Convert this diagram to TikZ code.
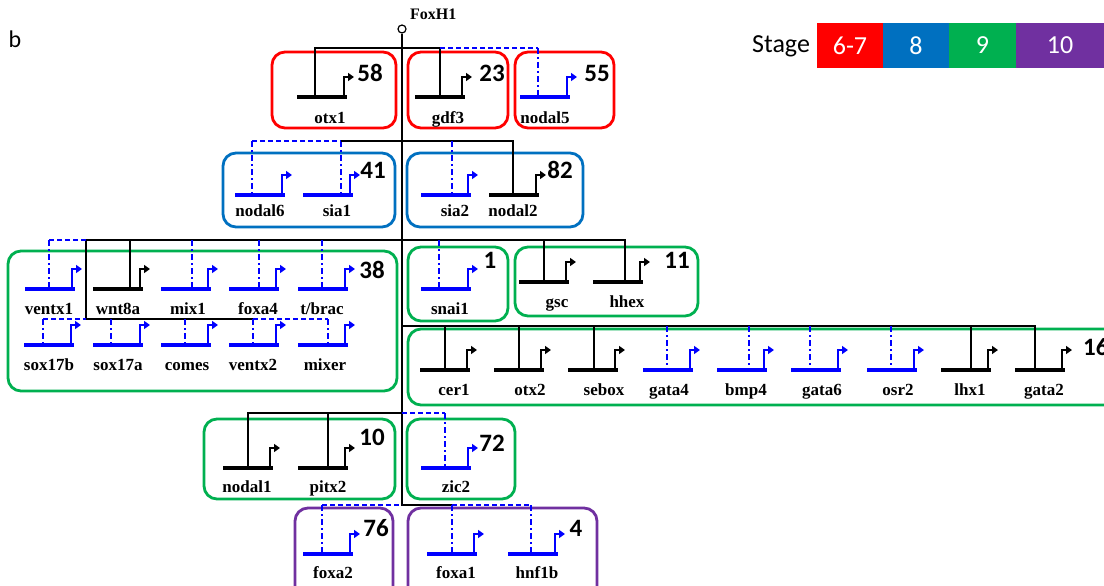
\documentclass[tikz,border=0pt]{standalone}
\usepackage{fontspec}
\setmainfont{Liberation Serif}
\newfontfamily\calib{Carlito}
\usetikzlibrary{arrows.meta}
\definecolor{stRed}{HTML}{FF0000}
\definecolor{stBlue}{HTML}{0070C0}
\definecolor{stGreen}{HTML}{00B050}
\definecolor{stPurple}{HTML}{7030A0}
\definecolor{geneBlue}{HTML}{0000FF}

% gene symbol: #1 id, #2 left end, #3 baseline, #4 x of the regulatory input,
% #5 colour, #6 label, #7 label position (base)
\newcommand\genesym[7]{%
  \draw[genebase,#5] (#2,#3) -- ++(50,0);
  \draw[promoter,#5] (#2+47,#3) -- ++(0,-20) -- ++(10,0);
  \coordinate (#1) at (#4,#3);
  \node[genelabel] (#1-lbl) at (#7) {#6};
}

\begin{document}
\begin{tikzpicture}[x=1pt,y=-1pt,
  tree/.style={line width=1.7pt, black},
  regdash/.style={line width=1.8pt, geneBlue, dash pattern=on 6pt off 3pt on 2pt off 3pt},
  hdash/.style={line width=1.8pt, geneBlue, dash pattern=on 5pt off 3pt},
  genebase/.style={line width=3.8pt},
  promoter/.style={line width=2.8pt, -{Triangle[length=6pt,width=8pt]}},
  genelabel/.style={font=\fontsize{17}{17}\selectfont\bfseries, anchor=base, inner sep=0pt},
  count/.style={font=\calib\bfseries\fontsize{25}{25}\selectfont, inner sep=0pt},
  grp/.style={line width=2.8pt, rounded corners=13pt},
  legbox/.style={minimum height=45pt, inner sep=0pt, text=white,
    font=\calib\fontsize{26}{26}\selectfont},
]
\useasboundingbox (0,0) rectangle (1104,586);
\clip (0,0) rectangle (1104,586);
\fill[white] (0,0) rectangle (1104,586);

% panel letter and legend
\node[font=\calib\fontsize{24}{24}\selectfont, inner sep=0pt] (panel) at (15,39) {b};
\node[anchor=west, inner sep=0pt, font=\calib\fontsize{26}{26}\selectfont] (stage) at (752,46) {Stage};
\node[legbox, fill=stRed, minimum width=66pt] (leg67) at (850,45.5) {6-7};
\node[legbox, fill=stBlue, minimum width=66pt] (leg8) at (916,45.5) {8};
\node[legbox, fill=stGreen, minimum width=67pt] (leg9) at (982.5,45.5) {9};
\node[legbox, fill=stPurple, minimum width=88pt] (leg10) at (1060,45.5) {10};

% FoxH1 and the main trunk
\node[anchor=base west, inner sep=0pt, font=\fontsize{16}{16}\selectfont\bfseries] (foxh1) at (410,20) {FoxH1};
\node[circle, draw, line width=1.2pt, minimum size=8pt, inner sep=0pt] (foxh1c) at (402,29) {};
\coordinate (m1) at (402,48);
\coordinate (m2) at (402,141);
\coordinate (m3) at (402,240);
\coordinate (m4) at (402,326);
\coordinate (m5) at (402,413);
\coordinate (m6) at (402,505);
\coordinate (k1) at (86,240);
\coordinate (k2) at (86,319);

% group frames
\draw[grp, stRed] (272,52) rectangle (396,128);
\draw[grp, stRed] (408,52) rectangle (508,128);
\draw[grp, stRed] (515,52) rectangle (614,128);
\draw[grp, stBlue] (223,153) rectangle (395,227);
\draw[grp, stBlue] (407,153) rectangle (583,227);
\draw[grp, stGreen] (8,251) rectangle (397,391);
\draw[grp, stGreen] (408,247) rectangle (508,321);
\draw[grp, stGreen] (515,247) rectangle (698,316);
\draw[grp, stGreen] (408,329) rectangle (1135,405);
\draw[grp, stGreen] (204,419) rectangle (395,499);
\draw[grp, stGreen] (407,419) rectangle (515,499);
\draw[grp, stPurple] (295,508) rectangle (393,605);
\draw[grp, stPurple] (408,508) rectangle (597,605);

% genes
\genesym{otx1}{297}{97}{315}{black}{otx1}{330,123.5}
\genesym{gdf3}{415}{97}{440}{black}{gdf3}{448,123.5}
\genesym{nodal5}{520}{97}{538}{geneBlue}{nodal5}{545,123.5}

\genesym{nodal6}{235}{195}{252}{geneBlue}{nodal6}{260,216.5}
\genesym{sia1}{303}{195}{341}{geneBlue}{sia1}{337,216.5}
\genesym{sia2}{421}{195}{452}{geneBlue}{sia2}{455,216.5}
\genesym{nodal2}{489}{195}{513}{black}{nodal2}{513,216.5}

\genesym{ventx1}{25}{289}{49}{geneBlue}{ventx1}{49,314.5}
\genesym{wnt8a}{93}{289}{130}{black}{wnt8a}{118,314.5}
\genesym{mix1}{161}{289}{192}{geneBlue}{mix1}{188,314.5}
\genesym{foxa4}{229}{289}{259}{geneBlue}{foxa4}{258,314.5}
\genesym{tbrac}{298}{289}{322}{geneBlue}{t/brac}{322,314.5}
\genesym{sox17b}{24}{345}{43}{geneBlue}{sox17b}{49,370.5}
\genesym{sox17a}{93}{345}{111}{geneBlue}{sox17a}{118,370.5}
\genesym{comes}{161}{345}{185}{geneBlue}{comes}{187,370.5}
\genesym{ventx2}{229}{345}{253}{geneBlue}{ventx2}{253,370.5}
\genesym{mixer}{298}{345}{328}{geneBlue}{mixer}{325,370.5}

\genesym{snai1}{421}{289}{439}{geneBlue}{snai1}{450,314.5}
\genesym{gsc}{519}{282}{544}{black}{gsc}{557,307.5}
\genesym{hhex}{593}{282}{625}{black}{hhex}{627,307.5}

\genesym{cer1}{420}{370}{445}{black}{cer1}{454,395.5}
\genesym{otx2}{494}{370}{519}{black}{otx2}{530,395.5}
\genesym{sebox}{568}{370}{594}{black}{sebox}{604,395.5}
\genesym{gata4}{643}{370}{667}{geneBlue}{gata4}{669,395.5}
\genesym{bmp4}{717}{370}{749}{geneBlue}{bmp4}{746,395.5}
\genesym{gata6}{791}{370}{810}{geneBlue}{gata6}{822,395.5}
\genesym{osr2}{867}{370}{891}{geneBlue}{osr2}{898,395.5}
\genesym{lhx1}{941}{370}{971}{black}{lhx1}{970,395.5}
\genesym{gata2}{1015}{370}{1035}{black}{gata2}{1044,395.5}

\genesym{nodal1}{223}{468}{248}{black}{nodal1}{247,492.5}
\genesym{pitx2}{298}{468}{328}{black}{pitx2}{328,492.5}
\genesym{zic2}{421}{468}{445}{geneBlue}{zic2}{456,492.5}

\genesym{foxa2}{303}{554}{322}{geneBlue}{foxa2}{333,578.5}
\genesym{foxa1}{427}{554}{452}{geneBlue}{foxa1}{456,578.5}
\genesym{hnf1b}{508}{554}{531}{geneBlue}{hnf1b}{537,578.5}

% trunk
\draw[tree] (foxh1c.south) -- (m6) -- (foxa1 |- m6);

% tier 1
\draw[tree] (otx1) -- (otx1 |- m1) -- (gdf3 |- m1) -- (gdf3);
\draw[hdash] (gdf3 |- m1) -- (nodal5 |- m1);
\draw[regdash] (nodal5 |- m1) -- (nodal5);

% tier 2
\draw[hdash] (nodal6 |- m2) -- (sia1 |- m2);
\draw[regdash] (nodal6 |- m2) -- (nodal6);
\draw[regdash] (sia1 |- m2) -- (sia1);
\draw[tree] (sia1 |- m2) -- (nodal2 |- m2) -- (nodal2);
\draw[regdash] (sia2 |- m2) -- (sia2);

% tier 3, left
\draw[tree] (m3) -- (k1) -- (k2) -- (ventx2 |- k2);
\draw[tree] (wnt8a |- m3) -- (wnt8a);
\draw[hdash] (ventx1 |- m3) -- (k1);
\foreach \g in {ventx1,mix1,foxa4,tbrac}
  \draw[regdash] (\g |- m3) -- (\g);
\draw[hdash] (sox17b |- k2) -- (k2);
\draw[hdash] (ventx2 |- k2) -- (mixer |- k2);
\foreach \g in {sox17b,sox17a,comes,ventx2,mixer}
  \draw[regdash] (\g |- k2) -- (\g);

% tier 3, right
\draw[tree] (m3) -- (hhex |- m3) -- (hhex);
\draw[tree] (gsc |- m3) -- (gsc);
\draw[regdash] (snai1 |- m3) -- (snai1);

% tier 4
\draw[tree] (m4) -- (gata2 |- m4) -- (gata2);
\foreach \g in {cer1,otx2,sebox,lhx1}
  \draw[tree] (\g |- m4) -- (\g);
\foreach \g in {gata4,bmp4,gata6,osr2}
  \draw[regdash] (\g |- m4) -- (\g);

% tier 5
\draw[tree] (m5) -- (nodal1 |- m5) -- (nodal1);
\draw[tree] (pitx2 |- m5) -- (pitx2);
\draw[hdash] (m5) -- (zic2 |- m5);
\draw[regdash] (zic2 |- m5) -- (zic2);

% tier 6
\draw[hdash] (foxa2 |- m6) -- (m6);
\draw[hdash] (foxa1 |- m6) -- (hnf1b |- m6);
\foreach \g in {foxa2,foxa1,hnf1b}
  \draw[regdash] (\g |- m6) -- (\g);

% group sizes
\node[count] (n58) at (370,73) {58};
\node[count] (n23) at (492,73) {23};
\node[count] (n55) at (597,73) {55};
\node[count] (n41) at (373,170) {41};
\node[count] (n82) at (560,170) {82};
\node[count] (n38) at (372,270) {38};
\node[count] (n1) at (490,260) {1};
\node[count] (n11) at (677,260) {11};
\node[count, anchor=west] (n16) at (1083,347) {16};
\node[count] (n10) at (372,437) {10};
\node[count] (n72) at (492,443) {72};
\node[count] (n76) at (376,528) {76};
\node[count] (n4) at (576,528) {4};
\end{tikzpicture}
\end{document}
